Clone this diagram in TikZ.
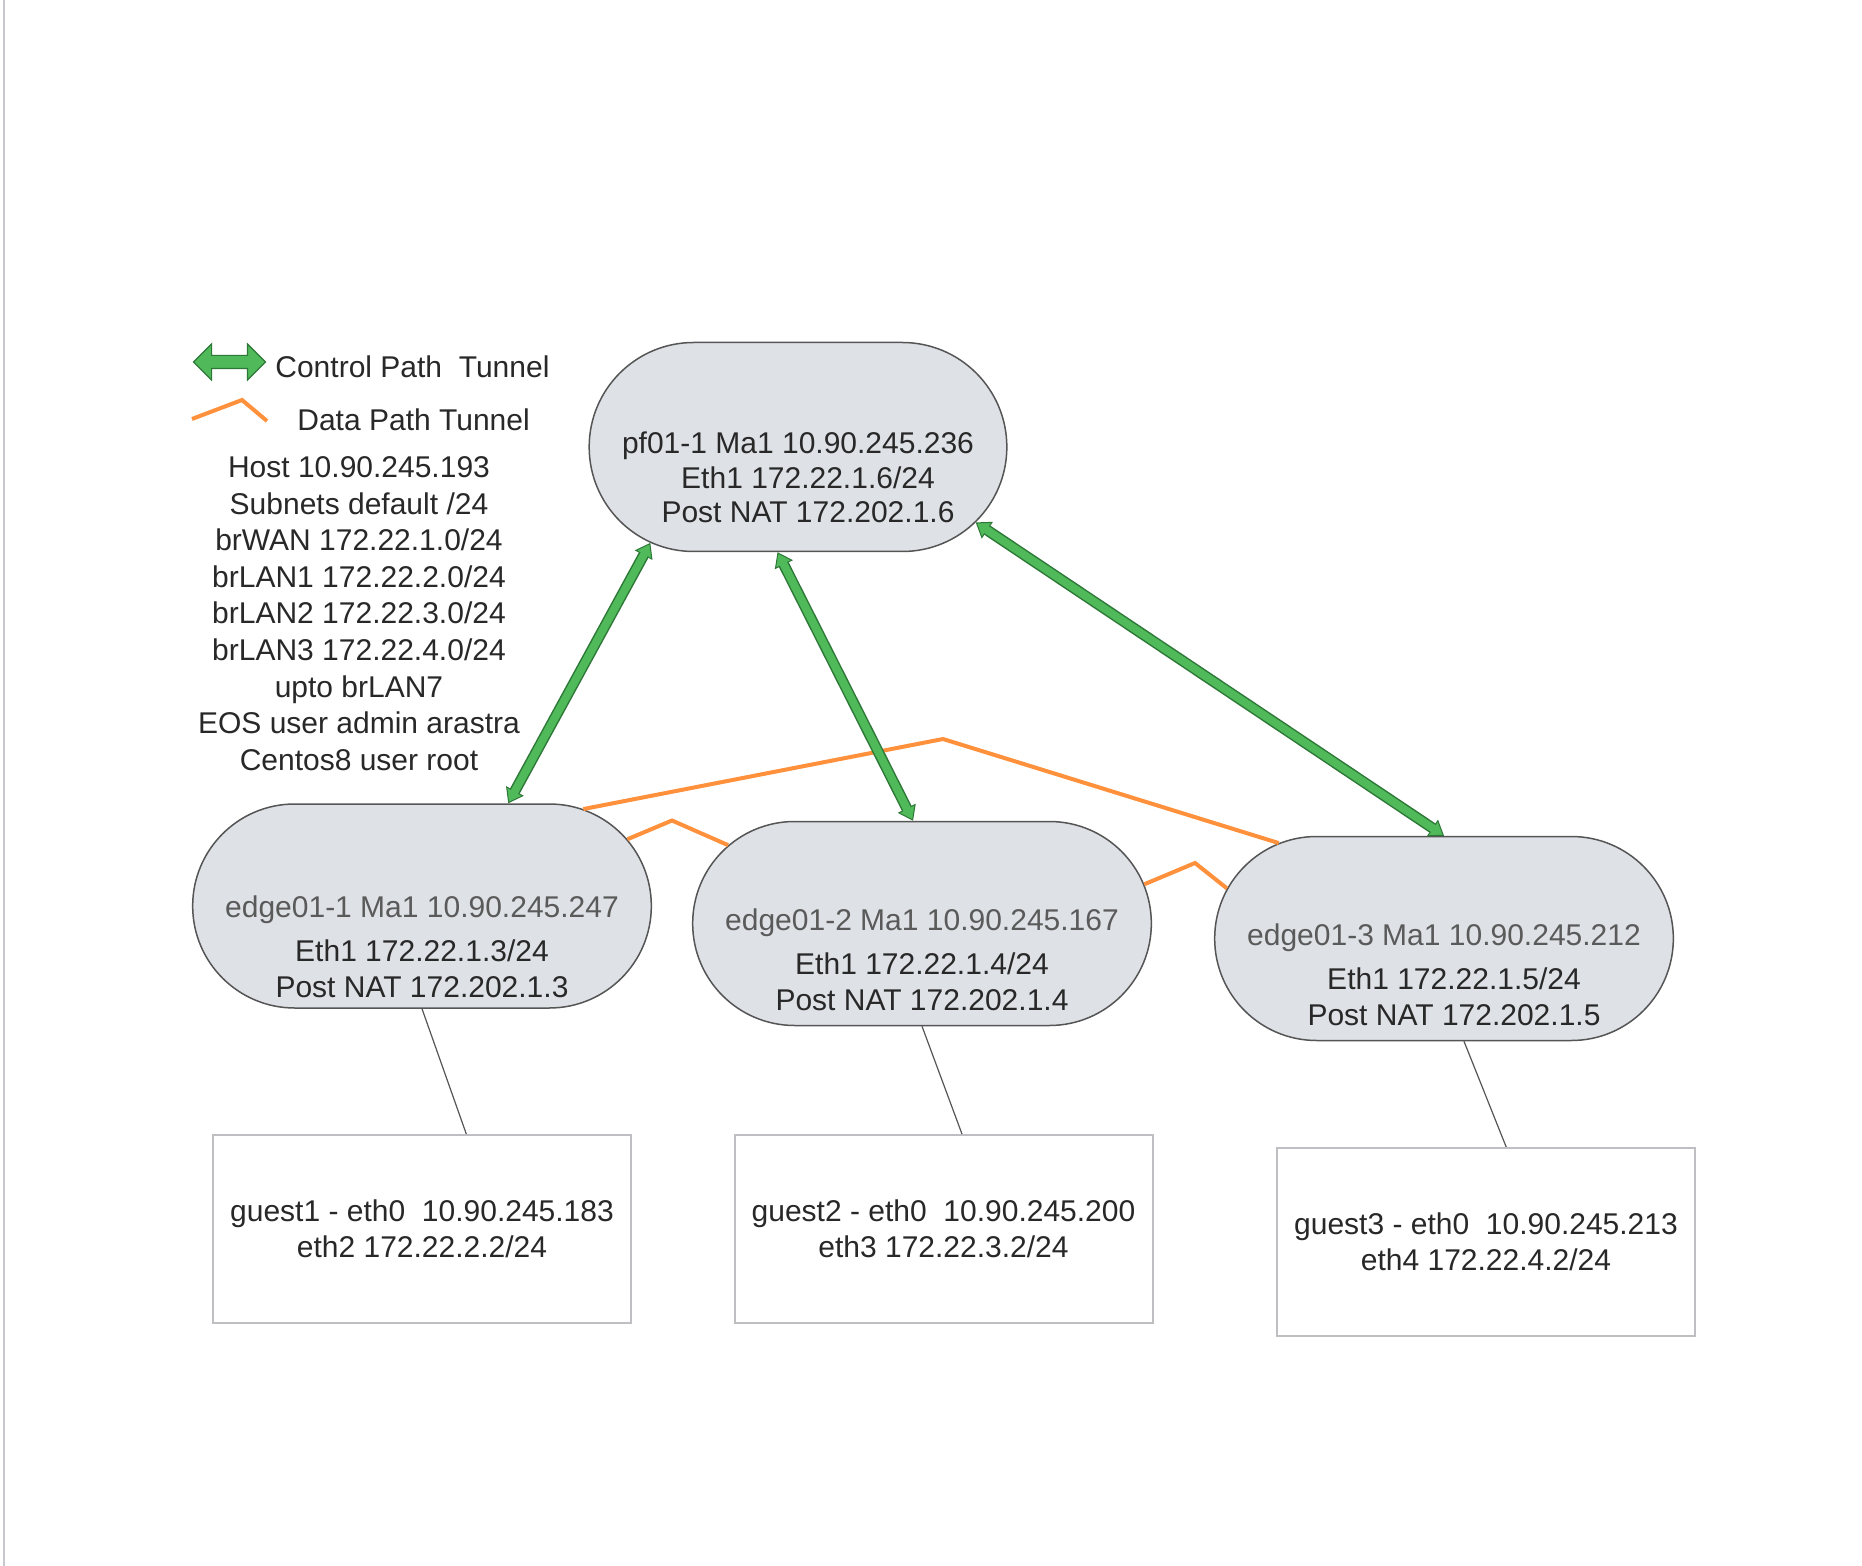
\documentclass[tikz,border=0pt]{standalone}
\usepackage{fontspec}
\setmainfont{Liberation Sans}
\usetikzlibrary{shapes.misc,shapes.arrows,arrows.meta}

\definecolor{boxfill}{RGB}{222,225,230}
\definecolor{boxline}{RGB}{85,85,85}
\definecolor{guestline}{RGB}{190,190,195}
\definecolor{ctrlgreen}{RGB}{80,185,90}
\definecolor{ctrldark}{RGB}{45,120,55}
\definecolor{dataorange}{RGB}{255,145,60}
\definecolor{txtdark}{RGB}{40,40,40}
\definecolor{txtgrey}{RGB}{90,90,90}
\definecolor{pagerule}{RGB}{200,200,206}

\tikzset{
  router/.style={rounded rectangle, draw=boxline, fill=boxfill, line width=0.75pt,
                 minimum width=236pt, minimum height=102pt},
  guestbox/.style={draw=guestline, fill=white, line width=1pt, align=center,
                   minimum width=209pt, minimum height=94pt},
  ctrl/.style={draw=ctrldark, line width=5.5pt,
               {Triangle[length=7pt,width=10pt,line width=0.5pt,fill=ctrlgreen]}-{Triangle[length=7pt,width=10pt,line width=0.5pt,fill=ctrlgreen]},
               postaction={draw=ctrlgreen, line width=4pt, -, shorten <=6pt, shorten >=6pt}},
  datalink/.style={draw=dataorange, line width=2pt},
  guestlink/.style={draw=boxline, line width=0.6pt}
}

\begin{document}
\begin{tikzpicture}[x=0.5pt, y=-0.5pt,
    every node/.style={font=\fontsize{15}{18}\selectfont, text=txtdark}]
  \useasboundingbox (0,0) rectangle (1862,1566);
  \draw[pagerule, line width=1pt] (4,0) -- (4,1566);

  % legend
  \node[double arrow, fill=ctrlgreen, draw=ctrldark, line width=0.6pt, inner sep=3pt,
        double arrow head extend=5.75pt, minimum height=36pt] (ctrlkey) at (229.5,362) {};
  \node[anchor=west, inner sep=0pt] (ctrllabel) at (275,367) {Control Path\ \ Tunnel};
  \draw[datalink] (192,419) -- (242,400) -- (267,421);
  \node[anchor=west, inner sep=0pt] (datalabel) at (297,420) {Data Path Tunnel};
  \node[align=center, font=\fontsize{15}{18.3}\selectfont] (hostinfo) at (359,613.5)
       {Host 10.90.245.193\\Subnets default /24\\brWAN 172.22.1.0/24\\brLAN1 172.22.2.0/24\\
        brLAN2 172.22.3.0/24\\brLAN3 172.22.4.0/24\\upto brLAN7\\EOS user admin arastra\\Centos8 user root};

  % routers
  \node[router, minimum width=215.5pt, minimum height=104.5pt] (pf) at (798,447) {};
  \node[router] (edge1) at (422,906) {};
  \node[router] (edge2) at (922,923.5) {};
  \node[router] (edge3) at (1444,938.5) {};

  \node[align=center, font=\fontsize{15}{17.25}\selectfont] (pftext) at (798,477.5)
       {pf01-1 Ma1 10.90.245.236\\\hspace*{10pt}Eth1 172.22.1.6/24\\\hspace*{10pt}Post NAT 172.202.1.6};
  \node[align=center] (edge1text) at (422,947)
       {\textcolor{txtgrey}{edge01-1 Ma1 10.90.245.247}\\[4pt]Eth1 172.22.1.3/24\\Post NAT 172.202.1.3};
  \node[align=center] (edge2text) at (922,960)
       {\textcolor{txtgrey}{edge01-2 Ma1 10.90.245.167}\\[4pt]Eth1 172.22.1.4/24\\Post NAT 172.202.1.4};
  \node[align=center] (edge3text) at (1444,975)
       {\textcolor{txtgrey}{edge01-3 Ma1 10.90.245.212}\\[4pt]\hspace*{10pt}Eth1 172.22.1.5/24\\\hspace*{10pt}Post NAT 172.202.1.5};

  % guests
  \node[guestbox] (guest1) at (422,1229) {guest1 - eth0\ \ 10.90.245.183\\eth2 172.22.2.2/24};
  \node[guestbox] (guest2) at (943.5,1229) {guest2 - eth0\ \ 10.90.245.200\\eth3 172.22.3.2/24};
  \node[guestbox] (guest3) at (1486,1242) {guest3 - eth0\ \ 10.90.245.213\\eth4 172.22.4.2/24};

  \draw[guestlink] (edge1.south) -- (guest1.65);
  \draw[guestlink] (edge2.south) -- (guest2.79);
  \draw[guestlink] (edge3.281) -- (guest3.78);

  % data path tunnels
  \coordinate (peak13) at (943,739);
  \coordinate (peak12) at (672,820.5);
  \coordinate (peak23) at (1195,863);
  \draw[datalink] (edge1.31) -- (peak13) -- (edge3.150);
  \draw[datalink] (edge1.18) -- (peak12) -- (edge2.158);
  \draw[datalink] (edge2.10) -- (peak23) -- (edge3.167);

  % control path tunnels
  \draw[ctrl] (pf.213) -- (edge1.50);
  \draw[ctrl] (pf.259) -- (edge2.95);
  \draw[ctrl] (pf.337) -- (edge3.north);
\end{tikzpicture}
\end{document}
